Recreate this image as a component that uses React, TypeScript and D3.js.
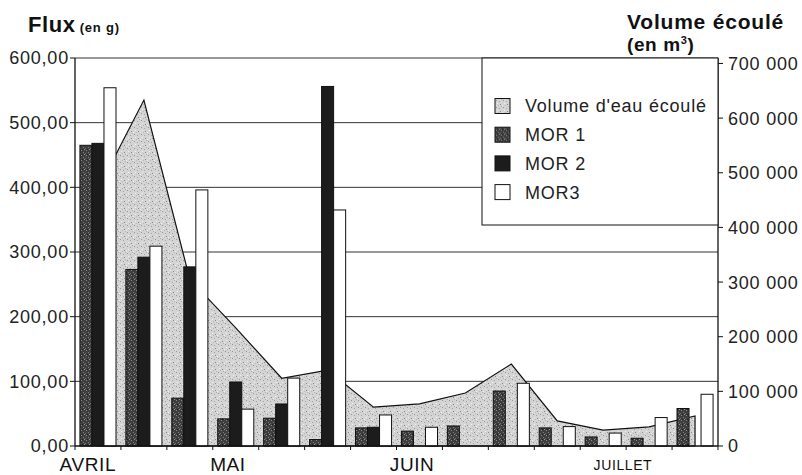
import React from "react";
import * as d3 from "d3";

const weeks = ["S1", "S2", "S3", "S4", "S5", "S6", "S7", "S8", "S9", "S10", "S11", "S12", "S13", "S14"];
const volume = [470000, 633000, 305000, 216000, 124000, 139000, 71000, 77000, 97000, 150000, 46000, 29000, 35000, 55000];
const mor1 = [465, 273, 74, 42, 43, 10, 28, 23, 31, 85, 28, 14, 12, 58];
const mor2 = [468, 292, 277, 99, 65, 556, 29, 0, 0, 0, 0, 0, 0, 0];
const mor3 = [554, 309, 396, 57, 105, 365, 48, 29, 0, 97, 30, 20, 44, 80];
const leftTicks = [0, 100, 200, 300, 400, 500, 600];
const rightTicks = [0, 100000, 200000, 300000, 400000, 500000, 600000, 700000];
const months = ["AVRIL", "MAI", "JUIN", "JUILLET"];
const legendLabels = ["Volume d'eau écoulé", "MOR 1", "MOR 2", "MOR3"];

const FONT = "Arial, 'Liberation Sans', Helvetica, sans-serif";

export default function App() {
  const W = 802, H = 475;
  const left = 75, right = 718, top = 58, bottom = 446;

  const x = d3.scaleBand<string>().domain(weeks).range([left, right]).paddingInner(0).paddingOuter(0);
  const xs = d3.scaleBand<string>().domain(["m1", "m2", "m3"]).range([0, x.bandwidth()]).paddingInner(0).paddingOuter(0.41);
  const xw = d3.scaleLinear().domain([0, weeks.length]).range([left, right]);
  const yL = d3.scaleLinear().domain([0, 600]).range([bottom, top]);
  const yR = d3.scaleLinear().domain([0, 710000]).range([bottom, top]);

  const cx = (i: number) => (x(weeks[i]) as number) + x.bandwidth() / 2;
  const areaGen = d3.area<number>().x((_, i) => cx(i)).y0(bottom).y1((d) => yR(d));

  const fmtL = (v: number) => d3.format(".2f")(v).replace(".", ",");
  const locFr = d3.formatLocale({ decimal: ",", thousands: " ", grouping: [3], currency: ["", " €"] });
  const fmtR = locFr.format(",d");

  const series = [
    { key: "m1", values: mor1, fill: "url(#stipDark)" },
    { key: "m2", values: mor2, fill: "#1c1c1c" },
    { key: "m3", values: mor3, fill: "#ffffff" },
  ];

  const legendFills = ["url(#stipLight)", "url(#stipDark)", "#1c1c1c", "#ffffff"];
  const monthPos = [0.28, 3.33, 7.34, 11.93];
  const monthSize = [19, 19, 19, 14];
  const monthBase = [471, 471, 471, 470];

  return (
    <svg width={W} height={H} style={{ position: "absolute", left: 0, top: 0, background: "#fff" }} fontFamily={FONT}>
      <defs>
        <pattern id="stipLight" width="7" height="7" patternUnits="userSpaceOnUse">
          <rect width="7" height="7" fill="#d4d4d4" />
          <rect x="1" y="1" width="1" height="1" fill="#969696" />
          <rect x="4" y="2" width="1" height="1" fill="#a4a4a4" />
          <rect x="2" y="4" width="1" height="1" fill="#f0f0f0" />
          <rect x="5" y="5" width="1" height="1" fill="#8a8a8a" />
          <rect x="0" y="6" width="1" height="1" fill="#eeeeee" />
          <rect x="6" y="0" width="1" height="1" fill="#b0b0b0" />
          <rect x="3" y="6" width="1" height="1" fill="#bababa" />
        </pattern>
        <pattern id="stipDark" width="5" height="5" patternUnits="userSpaceOnUse">
          <rect width="5" height="5" fill="#3e3e3e" />
          <rect x="1" y="0" width="1" height="1" fill="#8a8a8a" />
          <rect x="3" y="2" width="1" height="1" fill="#7a7a7a" />
          <rect x="0" y="3" width="1" height="1" fill="#6e6e6e" />
          <rect x="4" y="4" width="1" height="1" fill="#959595" />
          <rect x="2" y="4" width="1" height="1" fill="#222" />
        </pattern>
      </defs>

      {/* Titles */}
      <text x={28} y={32} fontSize={22} fontWeight="bold" letterSpacing={0.6} fill="#111">
        Flux
        <tspan fontSize={13} dx={4} letterSpacing={0.8}>(en g)</tspan>
      </text>
      <text x={627} y={29} fontSize={21} fontWeight="bold" letterSpacing={0.8} fill="#111">
        Volume écoulé
      </text>
      <text x={627} y={51} fontSize={19} fontWeight="bold" letterSpacing={0.6} fill="#111">
        (en m<tspan fontSize={11} dy={-7}>3</tspan><tspan dy={7}>)</tspan>
      </text>

      {/* Gridlines */}
      {leftTicks.filter((t) => t > 0).map((t) => (
        <line key={"g" + t} x1={left} x2={right} y1={yL(t)} y2={yL(t)} stroke="#333" strokeWidth={1} />
      ))}

      {/* Volume area */}
      <path d={areaGen(volume) as string} fill="url(#stipLight)" stroke="#111" strokeWidth={1.2} strokeLinejoin="miter" />

      {/* Bars */}
      {series.map((s) =>
        s.values.map((v, i) =>
          v > 0 ? (
            <rect
              key={s.key + i}
              x={(x(weeks[i]) as number) + (xs(s.key) as number)}
              y={yL(v)}
              width={xs.bandwidth()}
              height={bottom - yL(v)}
              fill={s.fill}
              stroke="#111"
              strokeWidth={1}
            />
          ) : null
        )
      )}

      {/* Axes */}
      <line x1={left} x2={left} y1={top} y2={bottom} stroke="#111" strokeWidth={1.3} />
      <line x1={right} x2={right} y1={top} y2={bottom} stroke="#111" strokeWidth={1.3} />
      <line x1={left} x2={right} y1={bottom} y2={bottom} stroke="#111" strokeWidth={1.3} />
      {leftTicks.map((t) => (
        <g key={"l" + t}>
          <line x1={left - 5} x2={left} y1={yL(t)} y2={yL(t)} stroke="#111" />
          <text x={69} y={yL(t)} dy="0.36em" textAnchor="end" fontSize={18} letterSpacing={0.8} fill="#222">
            {fmtL(t)}
          </text>
        </g>
      ))}
      {rightTicks.map((t) => (
        <g key={"r" + t}>
          <line x1={right} x2={right + 5} y1={yR(t)} y2={yR(t)} stroke="#111" />
          <text x={728} y={yR(t)} dy="0.36em" fontSize={18} letterSpacing={0.8} fill="#222">
            {fmtR(t)}
          </text>
        </g>
      ))}
      {d3.range(weeks.length + 1).map((i) => (
        <line key={"b" + i} x1={xw(i)} x2={xw(i)} y1={bottom} y2={bottom + 4} stroke="#111" />
      ))}
      {months.map((m, i) => (
        <text key={m} x={xw(monthPos[i])} y={monthBase[i]} textAnchor="middle" fontSize={monthSize[i]} letterSpacing={0.6} fill="#111">
          {m}
        </text>
      ))}

      {/* Legend */}
      <rect x={482} y={top} width={right - 482} height={167} fill="#fff" stroke="#111" strokeWidth={1} />
      {legendLabels.map((l, i) => (
        <g key={l} transform={`translate(495, ${106 + i * 28.7})`}>
          <rect x={0} y={-7.5} width={15} height={15} fill={legendFills[i]} stroke="#111" strokeWidth={1} />
          <text x={30} y={0} dy="0.36em" fontSize={18} letterSpacing={0.8} fill="#222">
            {l}
          </text>
        </g>
      ))}
    </svg>
  );
}
